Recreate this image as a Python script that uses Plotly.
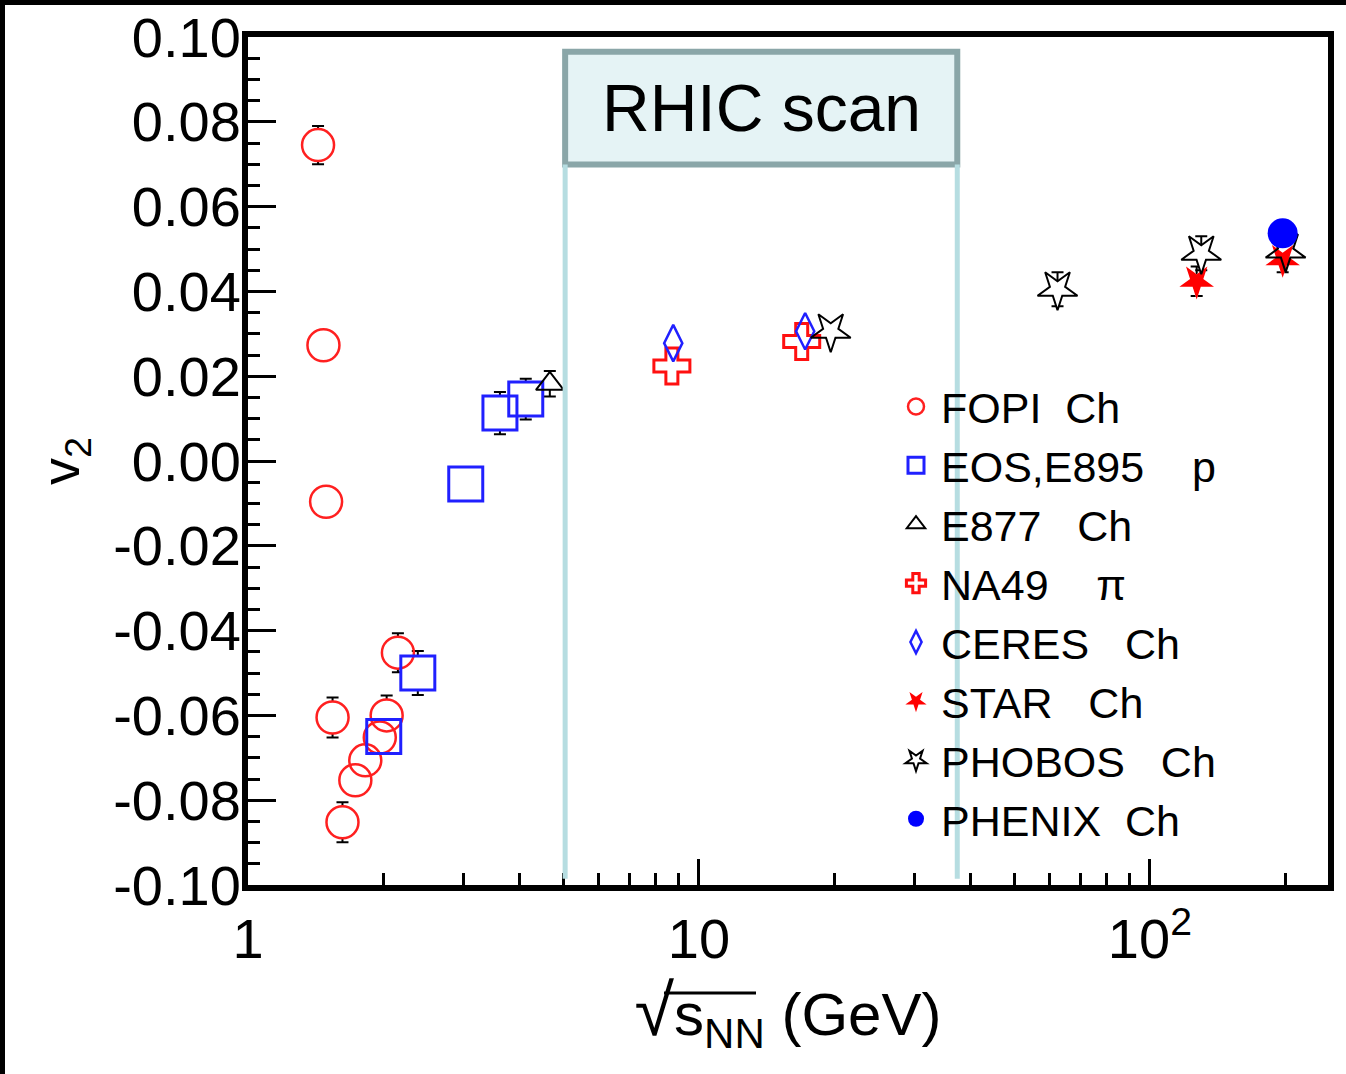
import math
import plotly.graph_objects as go

# ---------------- data ----------------
fopi_x = [1.43, 1.47, 1.49, 2.15, 1.54, 2.03, 1.96, 1.82, 1.73, 1.62]
fopi_y = [0.0745, 0.0273, -0.0096, -0.0452, -0.0605, -0.0600, -0.0652, -0.0706, -0.0753, -0.0852]
fopi_err = [0.0045, 0.0015, 0.0015, 0.0046, 0.0047, 0.0047, 0.0020, 0.0030, 0.0035, 0.0047]

eos_x = [3.62, 4.13, 3.04, 2.38, 2.00]
eos_y = [0.0113, 0.0146, -0.0054, -0.0500, -0.0650]
eos_err = [0.0050, 0.0048, 0.0020, 0.0052, 0.0030]

e877_x = [4.67]
e877_y = [0.0182]
e877_err = [0.0030]

na49_x = [8.71, 16.9]
na49_y = [0.0224, 0.0282]
na49_err = [0.0, 0.0]

ceres_x = [8.77, 17.2]
ceres_y = [0.0278, 0.0306]
ceres_err = [0.0, 0.0]

star_x = [127.0, 197.0]
star_y = [0.0424, 0.0475]
star_err = [0.0035, 0.0030]

phobos_x = [19.6, 62.4, 130.0, 200.0]
phobos_y = [0.0306, 0.0405, 0.0490, 0.0495]
phobos_err = [0.0015, 0.0040, 0.0040, 0.0010]

phenix_x = [197.0]
phenix_y = [0.0537]
phenix_err = [0.0]

rhic_lo, rhic_hi = 5.05, 37.4
rhic_box_y = [0.0699, 0.0965]
rhic_line_bottom = -0.0985

y_ticks = [0.10, 0.08, 0.06, 0.04, 0.02, 0.00, -0.02, -0.04, -0.06, -0.08, -0.10]
y_ticktext = ["0.10", "0.08", "0.06", "0.04", "0.02", "0.00", "-0.02", "-0.04", "-0.06", "-0.08", "-0.10"]
x_ticks = [1, 10, 100]
x_ticktext = ["1", "10", "10<sup>2</sup>"]

legend_names = [
    "FOPI\u00a0\u00a0Ch",
    "EOS,E895\u00a0\u00a0\u00a0\u00a0p",
    "E877\u00a0\u00a0\u00a0Ch",
    "NA49\u00a0\u00a0\u00a0\u00a0\u03c0",
    "CERES\u00a0\u00a0\u00a0Ch",
    "STAR\u00a0\u00a0\u00a0Ch",
    "PHOBOS\u00a0\u00a0\u00a0Ch",
    "PHENIX\u00a0\u00a0Ch",
]

FONT = "Liberation Sans, Arial, Helvetica, sans-serif"

series = [
    # x, y, err, symbol, size, color, line width, filled, angle
    (fopi_x, fopi_y, fopi_err, "circle", 32, "#ff2020", 2.5, False, 0),
    (eos_x, eos_y, eos_err, "square", 34, "#2020ff", 3, False, 0),
    (e877_x, e877_y, e877_err, "triangle-up", 24, "black", 2, False, 0),
    (na49_x, na49_y, na49_err, "cross", 30, "#ff1010", 3, False, 0),
    (ceres_x, ceres_y, ceres_err, "diamond-tall", 26, "#2020ff", 2.5, False, 0),
    (star_x, star_y, star_err, "star", 26, "#ff0000", 0, True, 180),
    (phobos_x, phobos_y, phobos_err, "star", 30, "black", 2, False, 180),
    (phenix_x, phenix_y, phenix_err, "circle", 30, "#0000ff", 0, True, 0),
]

# layout geometry (px)
W, H = 1346, 1074
ML, MR, MT, MB = 248, 18, 37, 189
PW, PH = W - ML - MR, H - MT - MB


def px2paper_x(px):
    return (px - ML) / PW


def px2paper_y(py):
    return (H - MB - py) / PH


fig = go.Figure()

# error bars + white masks (so the bars only show outside the markers)
for (x, y, err, sym, size, col, lw, filled, ang) in series:
    fig.add_trace(go.Scatter(
        x=x, y=y, mode="markers", showlegend=False, hoverinfo="skip",
        error_y=dict(type="data", array=err, visible=True, color="black", thickness=2, width=6),
        marker=dict(symbol=sym, size=size, angle=ang, color="white", line=dict(width=0))))

# visible markers (with legend)
for i, (x, y, err, sym, size, col, lw, filled, ang) in enumerate(series):
    if filled:
        mk = dict(symbol=sym, size=size, angle=ang, color=col, line=dict(width=0))
    else:
        mk = dict(symbol=sym + "-open", size=size, angle=ang, color=col, line=dict(width=lw, color=col))
    fig.add_trace(go.Scatter(x=x, y=y, mode="markers", name=legend_names[i], marker=mk))

shapes = []
for xv in (rhic_lo, rhic_hi):
    shapes.append(dict(type="line", xref="x", yref="y", x0=xv, x1=xv,
                       y0=rhic_line_bottom, y1=rhic_box_y[0],
                       line=dict(color="#b6dde1", width=5), layer="above"))
shapes.append(dict(type="rect", xref="x", yref="y", x0=rhic_lo, x1=rhic_hi,
                   y0=rhic_box_y[0], y1=rhic_box_y[1],
                   fillcolor="#e5f3f5", line=dict(color="#8aa6a8", width=6), layer="below"))
# page border (top and left)
shapes.append(dict(type="rect", xref="paper", yref="paper", x0=px2paper_x(0), x1=px2paper_x(W),
                   y0=px2paper_y(5), y1=px2paper_y(0), fillcolor="black", line=dict(width=0)))
shapes.append(dict(type="rect", xref="paper", yref="paper", x0=px2paper_x(0), x1=px2paper_x(5),
                   y0=px2paper_y(H), y1=px2paper_y(0), fillcolor="black", line=dict(width=0)))
# vinculum of the square root in the x title
shapes.append(dict(type="line", xref="paper", yref="paper", x0=px2paper_x(664), x1=px2paper_x(756),
                   y0=px2paper_y(993), y1=px2paper_y(993), line=dict(color="black", width=3)))

annotations = [dict(
    x=0.5 * (math.log10(rhic_lo) + math.log10(rhic_hi)), xref="x",
    y=0.5 * (rhic_box_y[0] + rhic_box_y[1]), yref="y",
    text="RHIC scan", showarrow=False, font=dict(family=FONT, size=66, color="black"),
    xanchor="center", yanchor="middle")]

fig.update_layout(
    width=W, height=H,
    margin=dict(l=ML, r=MR, t=MT, b=MB, autoexpand=False),
    paper_bgcolor="white", plot_bgcolor="white",
    font=dict(family=FONT, color="black"),
    shapes=shapes, annotations=annotations,
    showlegend=True,
    legend=dict(x=px2paper_x(891), y=px2paper_y(372), xanchor="left", yanchor="top",
                bgcolor="rgba(0,0,0,0)", borderwidth=0,
                font=dict(family=FONT, size=43, color="black"),
                tracegroupgap=0, itemwidth=40),
    xaxis=dict(type="log", range=[0, 2.395], showgrid=False, zeroline=False,
               showline=True, linecolor="black", linewidth=6, mirror=True, automargin=False,
               ticks="inside", ticklen=26, tickwidth=3, tickcolor="black",
               tickvals=x_ticks, ticktext=x_ticktext, ticklabeloverflow="allow",
               tickfont=dict(family=FONT, size=56, color="black"),
               minor=dict(ticks="inside", ticklen=12, tickwidth=3, tickcolor="black",
                          dtick="D1", showgrid=False),
               title=dict(text="<span style='font-size:72px'>\u221a</span>s<sub>NN</sub> (GeV)",
                          font=dict(family=FONT, size=60, color="black"), standoff=24)),
    yaxis=dict(range=[-0.1, 0.1], showgrid=False, zeroline=False,
               showline=True, linecolor="black", linewidth=6, mirror=True, automargin=False,
               ticks="inside", ticklen=28, tickwidth=3, tickcolor="black",
               tickvals=y_ticks, ticktext=y_ticktext, ticklabelstandoff=-10,
               ticklabeloverflow="allow",
               tickfont=dict(family=FONT, size=56, color="black"),
               minor=dict(ticks="inside", ticklen=12, tickwidth=3, tickcolor="black",
                          dtick=0.005, showgrid=False),
               title=dict(text="v<sub>2</sub>", font=dict(family=FONT, size=54, color="black"),
                          standoff=18)),
)

fig.write_html("out.html")
